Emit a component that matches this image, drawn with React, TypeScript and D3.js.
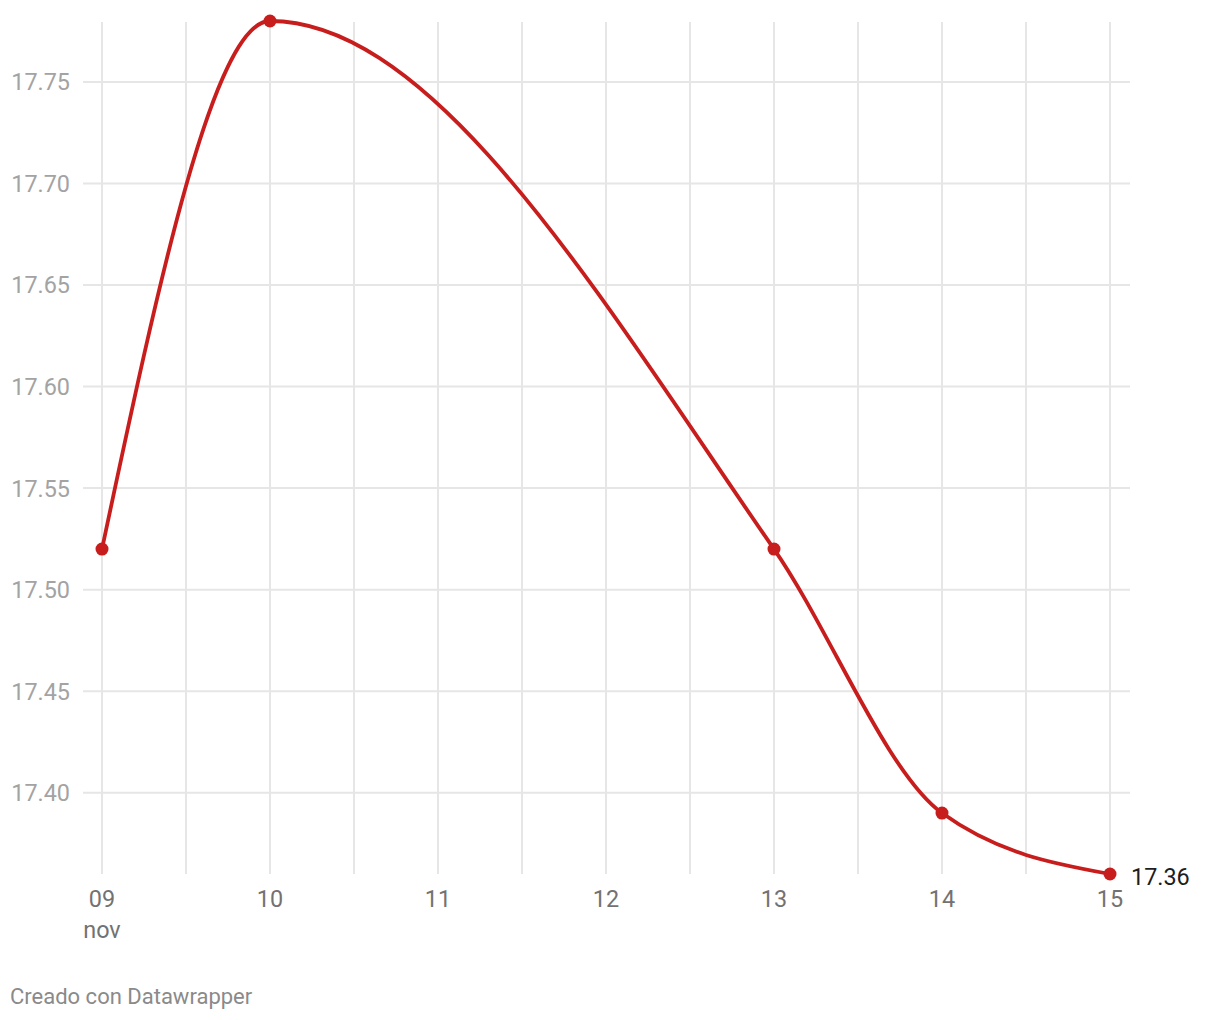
import React from "react";
import * as d3 from "d3";

const dates = ["2023-11-09", "2023-11-10", "2023-11-13", "2023-11-14", "2023-11-15"];
const values = [17.52, 17.78, 17.52, 17.39, 17.36];
const yTicks = [17.4, 17.45, 17.5, 17.55, 17.6, 17.65, 17.7, 17.75];
const xTickLabels = ["09", "10", "11", "12", "13", "14", "15"];
const footer = "Creado con Datawrapper";

const W = 1220;
const H = 1020;
const parse = d3.utcParse("%Y-%m-%d");

export default function App() {
  const data = dates.map((d, i) => ({ date: parse(d) as Date, value: values[i] }));
  const x = d3
    .scaleUtc()
    .domain([parse("2023-11-09") as Date, parse("2023-11-15") as Date])
    .range([102, 1110]);
  const y = d3.scaleLinear().domain([17.36, 17.78]).range([874, 21]);

  const xDays = xTickLabels.map((_, i) => d3.utcDay.offset(x.domain()[0], i));
  const xHalf = d3.range(0, 13).map((i) => d3.utcHour.offset(x.domain()[0], i * 12));

  const line = d3
    .line<{ date: Date; value: number }>()
    .x((d) => x(d.date))
    .y((d) => y(d.value))
    .curve(d3.curveMonotoneX);

  const font = "Roboto, 'Noto Sans', sans-serif";
  const last = data[data.length - 1];

  return (
    <svg
      width={W}
      height={H}
      style={{ position: "absolute", left: 0, top: 0, background: "#fff" }}
      fontFamily={font}
    >
      {xHalf.map((d, i) => (
        <line
          key={"v" + i}
          x1={x(d)}
          x2={x(d)}
          y1={22}
          y2={874}
          stroke="#e6e6e6"
          strokeWidth={2}
        />
      ))}
      {yTicks.map((t) => (
        <g key={"h" + t}>
          <line x1={83} x2={1130} y1={y(t)} y2={y(t)} stroke="#e6e6e6" strokeWidth={2} />
          <text x={70} y={y(t)} dy="0.36em" textAnchor="end" fontSize={23.4} fill="#a3a3a3">
            {d3.format(".2f")(t)}
          </text>
        </g>
      ))}
      {xDays.map((d, i) => (
        <text key={"xl" + i} x={x(d)} y={907} textAnchor="middle" fontSize={23.4} fill="#727272">
          {xTickLabels[i]}
        </text>
      ))}
      <text x={x(xDays[0])} y={938} textAnchor="middle" fontSize={23.4} fill="#727272">
        nov
      </text>
      <path d={line(data) || ""} fill="none" stroke="#c71e1d" strokeWidth={3.8} />
      {data.map((d, i) => (
        <circle key={"c" + i} cx={x(d.date)} cy={y(d.value)} r={6.5} fill="#c71e1d" />
      ))}
      <text x={x(last.date) + 21} y={y(last.value) + 11} fontSize={23.4} fill="#1d1d1d">
        {d3.format(".2f")(last.value)}
      </text>
      <text x={10} y={1004} fontSize={22} fill="#8a8a8a">
        {footer}
      </text>
    </svg>
  );
}
